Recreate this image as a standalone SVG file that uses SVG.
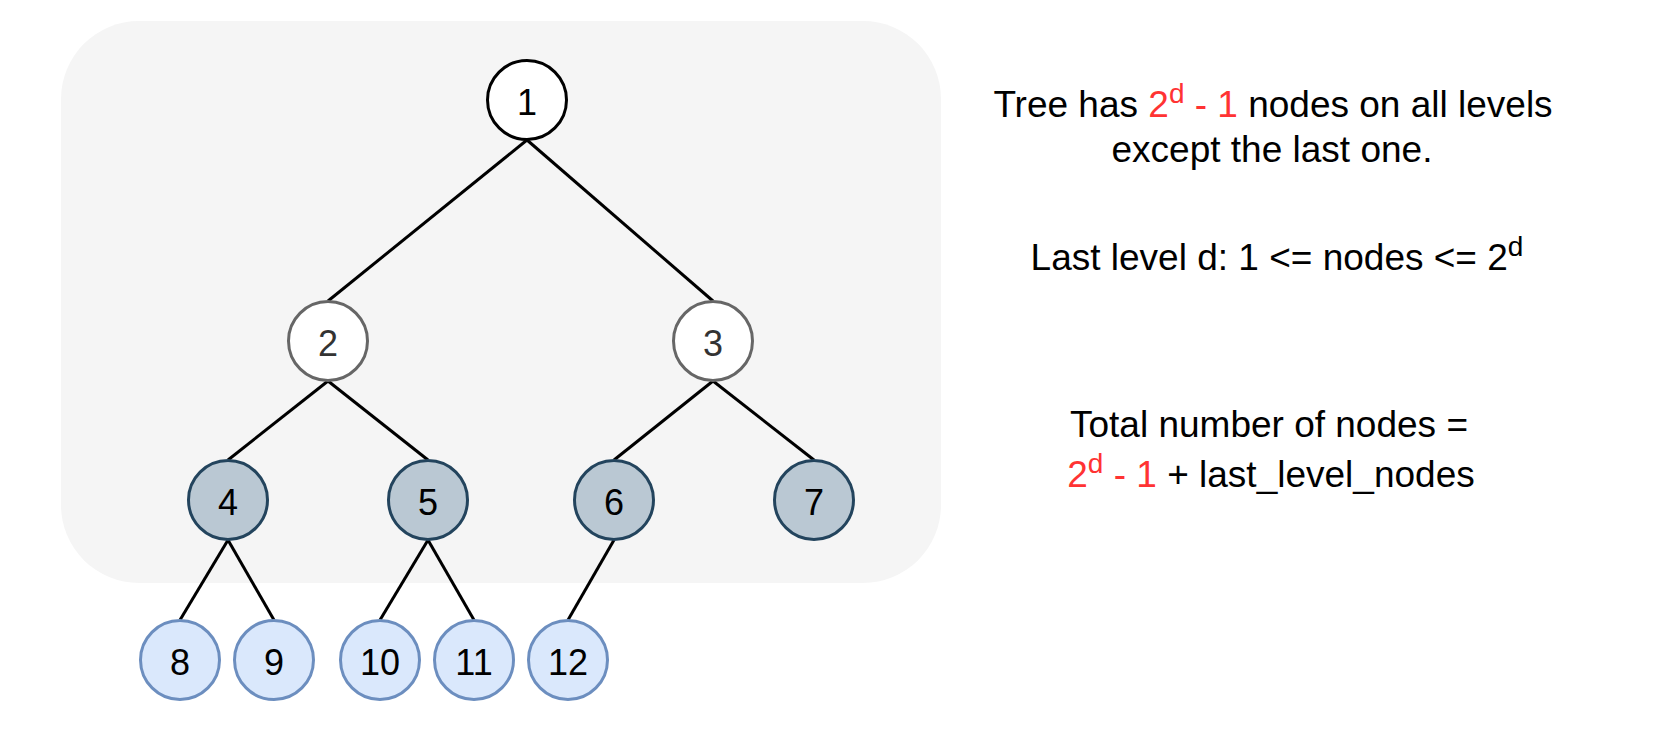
<svg xmlns="http://www.w3.org/2000/svg" width="1672" height="734" viewBox="0 0 1672 734">
<style>
  text { font-family: "Liberation Sans", Arial, sans-serif; }
  .nt { font-size: 36px; text-anchor: middle; fill: #000; }
  .lbl { font-size: 37px; text-anchor: middle; fill: #000; }
  .red { fill: #ff3333; }
  .sup { font-size: 28px; }
  .edge { stroke: #000; stroke-width: 3; fill: none; }
  .n-root { fill: #ffffff; stroke: #000000; stroke-width: 3; }
  .n-gray { fill: #ffffff; stroke: #666666; stroke-width: 3; }
  .n-dark { fill: #bac8d3; stroke: #23445d; stroke-width: 3; }
  .n-blue { fill: #dae8fc; stroke: #6c8ebf; stroke-width: 3; }
</style>
<rect id="background" x="61" y="21" width="880" height="562" rx="78" ry="78" fill="#f5f5f5"/>
<g id="connectors">
  <line class="edge" x1="527" y1="140" x2="328" y2="301"/>
  <line class="edge" x1="527" y1="140" x2="713" y2="301"/>
  <line class="edge" x1="328" y1="381" x2="228" y2="460"/>
  <line class="edge" x1="328" y1="381" x2="428" y2="460"/>
  <line class="edge" x1="713" y1="381" x2="614" y2="460"/>
  <line class="edge" x1="713" y1="381" x2="814" y2="460"/>
  <line class="edge" x1="228" y1="540" x2="180" y2="620"/>
  <line class="edge" x1="228" y1="540" x2="274" y2="620"/>
  <line class="edge" x1="428" y1="540" x2="380" y2="620"/>
  <line class="edge" x1="428" y1="540" x2="474" y2="620"/>
  <line class="edge" x1="614" y1="540" x2="568" y2="620"/>
</g>
<g id="node1"><circle class="n-root" cx="527" cy="100" r="39.5"/><text class="nt" x="527" y="115">1</text></g>
<g id="node2"><circle class="n-gray" cx="328" cy="341" r="39.5"/><text class="nt" x="328" y="356" style="fill:#333333">2</text></g>
<g id="node3"><circle class="n-gray" cx="713" cy="341" r="39.5"/><text class="nt" x="713" y="356" style="fill:#333333">3</text></g>
<g id="node4"><circle class="n-dark" cx="228" cy="500" r="39.5"/><text class="nt" x="228" y="515">4</text></g>
<g id="node5"><circle class="n-dark" cx="428" cy="500" r="39.5"/><text class="nt" x="428" y="515">5</text></g>
<g id="node6"><circle class="n-dark" cx="614" cy="500" r="39.5"/><text class="nt" x="614" y="515">6</text></g>
<g id="node7"><circle class="n-dark" cx="814" cy="500" r="39.5"/><text class="nt" x="814" y="515">7</text></g>
<g id="node8"><circle class="n-blue" cx="180" cy="660" r="39.5"/><text class="nt" x="180" y="675">8</text></g>
<g id="node9"><circle class="n-blue" cx="274" cy="660" r="39.5"/><text class="nt" x="274" y="675">9</text></g>
<g id="node10"><circle class="n-blue" cx="380" cy="660" r="39.5"/><text class="nt" x="380" y="675">10</text></g>
<g id="node11"><circle class="n-blue" cx="474" cy="660" r="39.5"/><text class="nt" x="474" y="675">11</text></g>
<g id="node12"><circle class="n-blue" cx="568" cy="660" r="39.5"/><text class="nt" x="568" y="675">12</text></g>
<g id="notes">
  <text class="lbl" x="1273" y="117">Tree has <tspan class="red">2</tspan><tspan class="red sup" dy="-14">d</tspan><tspan class="red" dy="14"> - 1</tspan> nodes on all levels</text>
  <text class="lbl" x="1272" y="162">except the last one.</text>
  <text class="lbl" x="1277" y="270">Last level d: 1 &lt;= nodes &lt;= 2<tspan class="sup" dy="-14">d</tspan></text>
  <text class="lbl" x="1269" y="437">Total number of nodes =</text>
  <text class="lbl" x="1271" y="487"><tspan class="red">2</tspan><tspan class="red sup" dy="-14">d</tspan><tspan class="red" dy="14"> - 1</tspan> + last_level_nodes</text>
</g>
</svg>
